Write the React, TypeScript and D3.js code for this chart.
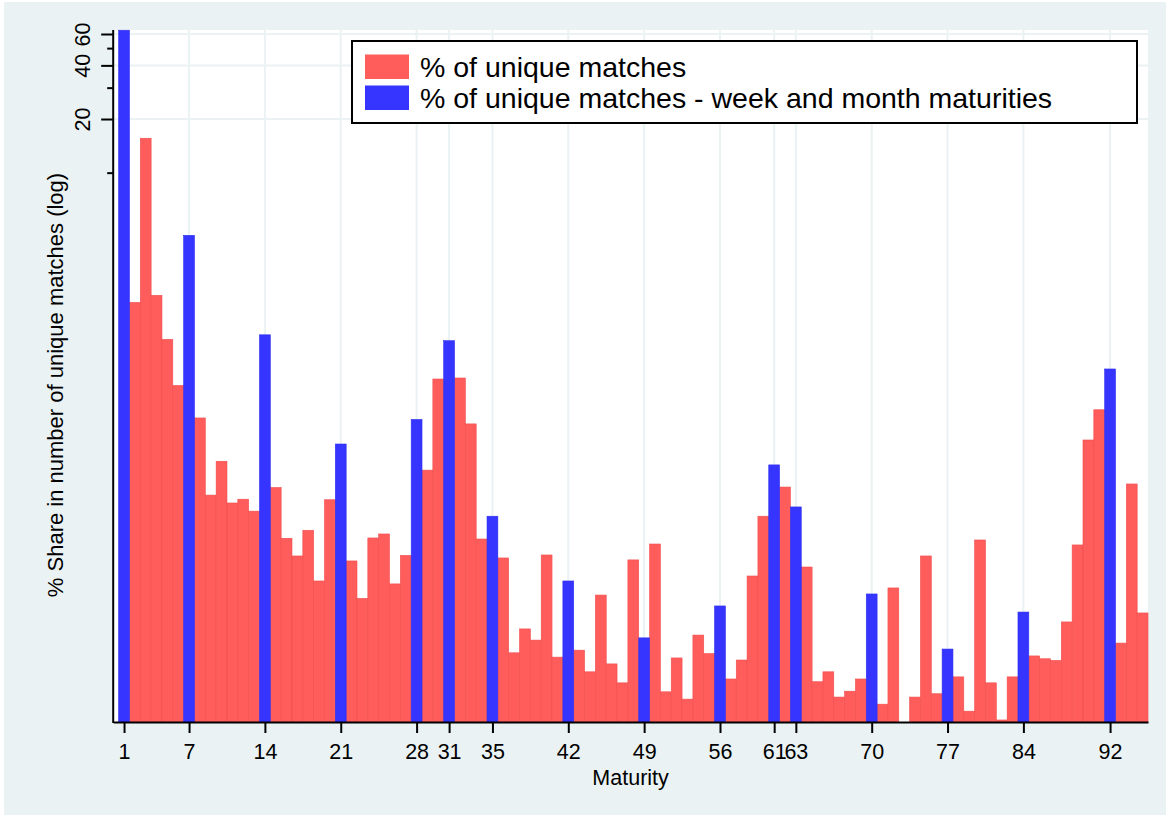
import React, { useEffect, useRef } from "react";
import * as d3 from "d3";

// maturities (days) on the x axis
const maturities = d3.range(1, 96);

// % of unique matches, by maturity 1..95 (null where the blue bar sits, or no bar)
const shareAll: (number | null)[] = [
  null, 1.87, 15.6, 2.05, 1.16, 0.639, null, 0.42, 0.155, 0.24,
  0.14, 0.147, 0.126, null, 0.171, 0.0887, 0.0706, 0.0984, 0.0511, 0.146,
  null, 0.0662, 0.0408, 0.0891, 0.0938, 0.0492, 0.0711, null, 0.214, 0.695,
  null, 0.704, 0.389, 0.0879, null, 0.0688, 0.0202, 0.0275, 0.0238, 0.0715,
  0.0191, null, 0.0209, 0.0158, 0.0426, 0.0175, 0.0137, 0.0671, null, 0.0824,
  0.0122, 0.0189, 0.0111, 0.0254, 0.02, null, 0.0144, 0.0184, 0.0545, 0.118,
  null, 0.172, null, 0.0612, 0.0139, 0.0158, 0.0114, 0.0123, 0.0144, null,
  0.0104, 0.0467, null, 0.0114, 0.0706, 0.0119, null, 0.0148, 0.0095, 0.0868,
  0.0137, 0.00848, 0.0148, null, 0.0194, 0.0187, 0.0183, 0.0301, 0.0814, 0.316,
  0.467, null, 0.0229, 0.179, 0.0338,
];

// % of unique matches - week and month maturities
const weekMonthMaturities = [1, 7, 14, 21, 28, 31, 35, 42, 49, 56, 61, 63, 70, 77, 84, 92];
const weekMonthShare = [63, 4.45, 1.23, 0.3, 0.412, 1.14, 0.118, 0.0511, 0.0245, 0.037, 0.229, 0.133, 0.0432, 0.0212, 0.0342, 0.791];

const xTicks = [1, 7, 14, 21, 28, 31, 35, 42, 49, 56, 61, 63, 70, 77, 84, 92];
const yMajorTicks = [20, 40, 60];
const yMinorTicks = [10, 30, 50];
const legendLabels = ["% of unique matches", "% of unique matches - week and month maturities"];

const W = 1170;
const H = 817;
const FONT = '"Liberation Sans", Arial, sans-serif';
const RED = "#FF5C5C";
const BLUE = "#3535FF";
const GRID = "#EAF2F3";

const App = () => {
  const ref = useRef<SVGSVGElement>(null);

  useEffect(() => {
    const svg = d3.select(ref.current);
    svg.selectAll("*").remove();

    const left = 113.2, right = 1148, top = 30, bottom = 722;

    const x = d3.scaleLinear().domain([0, 95.5]).range([left, right]);
    const y = d3.scaleLog().domain([0.00826, 60]).range([bottom, 34]);
    const bw = x(1) - x(0);

    // background
    svg.append("rect").attr("width", W).attr("height", H).attr("fill", "white");
    svg.append("rect").attr("x", 4).attr("y", 2).attr("width", W - 8).attr("height", H - 4).attr("fill", GRID);
    svg.append("rect")
      .attr("x", left).attr("y", top)
      .attr("width", right - left).attr("height", bottom - top)
      .attr("fill", "white");

    // grid
    const grid = svg.append("g");
    grid.selectAll("line.h").data(yMajorTicks).join("line")
      .attr("x1", left).attr("x2", right)
      .attr("y1", d => y(d)).attr("y2", d => y(d))
      .attr("stroke", GRID).attr("stroke-width", 2);
    grid.selectAll("line.v").data(xTicks).join("line")
      .attr("x1", d => x(d)).attr("x2", d => x(d))
      .attr("y1", top).attr("y2", bottom)
      .attr("stroke", GRID).attr("stroke-width", 2);

    // red bars
    const redData = maturities
      .map((m, i) => ({ m, v: shareAll[i] }))
      .filter(d => d.v != null) as { m: number; v: number }[];
    svg.append("g").selectAll("rect").data(redData).join("rect")
      .attr("x", d => x(d.m - 0.5))
      .attr("width", bw)
      .attr("y", d => y(d.v))
      .attr("height", d => y(0.00826) - y(d.v))
      .attr("fill", RED)
      .attr("stroke", "#F04F4F")
      .attr("stroke-width", 0.6);

    // blue bars
    const blueData = weekMonthMaturities.map((m, i) => ({ m, v: weekMonthShare[i] }));
    svg.append("g").selectAll("rect").data(blueData).join("rect")
      .attr("x", d => x(d.m - 0.5))
      .attr("width", bw)
      .attr("y", d => Math.max(top, y(d.v)))
      .attr("height", d => y(0.00826) - Math.max(top, y(d.v)))
      .attr("fill", BLUE)
      .attr("stroke", "#2F2FF0")
      .attr("stroke-width", 0.6);

    // x axis
    const xAxis = svg.append("g")
      .attr("transform", `translate(0,${bottom})`)
      .call(d3.axisBottom(x).tickValues(xTicks).tickSize(11).tickSizeOuter(0).tickFormat(d3.format("d")));
    xAxis.select(".domain").attr("stroke", "black").attr("stroke-width", 2);
    xAxis.selectAll(".tick line").attr("stroke", "black").attr("stroke-width", 2);
    xAxis.selectAll(".tick text")
      .attr("y", 37).attr("dy", 0)
      .attr("font-family", FONT).attr("font-size", 21.5).attr("fill", "black");

    // y axis: major ticks with rotated labels
    const yAxis = svg.append("g")
      .attr("transform", `translate(${left},0)`)
      .call(d3.axisLeft(y).tickValues(yMajorTicks).tickSize(12).tickSizeOuter(0).tickFormat(d3.format("d")));
    yAxis.select(".domain").remove();
    yAxis.selectAll(".tick line").attr("stroke", "black").attr("stroke-width", 2);
    yAxis.selectAll(".tick text")
      .attr("x", 0).attr("dy", 0)
      .attr("transform", "translate(-23,0) rotate(-90)")
      .attr("text-anchor", "middle")
      .attr("font-family", FONT).attr("font-size", 21.5).attr("fill", "black");

    // y axis: minor ticks
    const yMinor = svg.append("g")
      .attr("transform", `translate(${left},0)`)
      .call(d3.axisLeft(y).tickValues(yMinorTicks).tickSize(6).tickSizeOuter(0).tickFormat(() => ""));
    yMinor.select(".domain").remove();
    yMinor.selectAll(".tick line").attr("stroke", "black").attr("stroke-width", 2);

    svg.append("line")
      .attr("x1", left).attr("x2", left)
      .attr("y1", top).attr("y2", bottom + 1)
      .attr("stroke", "black").attr("stroke-width", 2);

    // axis titles
    svg.append("text")
      .attr("x", (left + right) / 2).attr("y", 785)
      .attr("text-anchor", "middle")
      .attr("font-family", FONT).attr("font-size", 21.5)
      .text("Maturity");
    svg.append("text")
      .attr("transform", "translate(63,385) rotate(-90)")
      .attr("text-anchor", "middle")
      .attr("font-family", FONT).attr("font-size", 22)
      .text("% Share in number of unique matches (log)");

    // legend
    const lg = svg.append("g");
    lg.append("rect")
      .attr("x", 352).attr("y", 41).attr("width", 785).attr("height", 82)
      .attr("fill", "white").attr("stroke", "black").attr("stroke-width", 2);
    const colors = [RED, BLUE];
    legendLabels.forEach((label, i) => {
      lg.append("rect")
        .attr("x", 365).attr("y", 54.5 + i * 31).attr("width", 44).attr("height", 24.5)
        .attr("fill", colors[i]);
      lg.append("text")
        .attr("x", 420).attr("y", 77 + i * 30.5)
        .attr("font-family", FONT).attr("font-size", 28.5)
        .text(label);
    });
  }, []);

  return (
    <svg
      ref={ref}
      width={W}
      height={H}
      style={{ position: "absolute", left: 0, top: 0 }}
    />
  );
};

export default App;
